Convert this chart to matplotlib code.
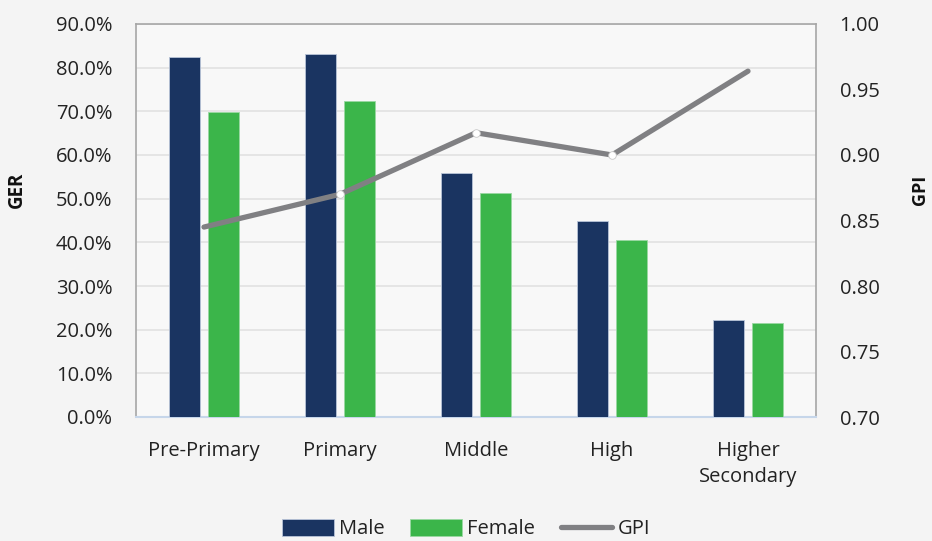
import matplotlib.pyplot as plt
import numpy as np
from matplotlib.ticker import FuncFormatter, FixedLocator
from matplotlib.lines import Line2D

plt.rcParams['font.family'] = ['Open Sans', 'DejaVu Sans']

categories = ["Pre-Primary", "Primary", "Middle", "High", "Higher\nSecondary"]
male_ger = [82.5, 83.2, 55.9, 44.9, 22.3]
female_ger = [69.8, 72.3, 51.3, 40.5, 21.5]
gpi = [0.845, 0.870, 0.917, 0.900, 0.964]

male_color = "#1a3461"
female_color = "#3bb54a"
gpi_color = "#808083"
fs = 14.5

fig = plt.figure(figsize=(9.32, 5.41), dpi=100, facecolor="#f4f4f4")
ax = fig.add_axes([136 / 932, 1 - 417 / 541, 680 / 932, 393 / 541])
ax.set_facecolor("#f8f8f8")

x = np.arange(len(categories))
w = 0.228
off = 0.143
ax.bar(x - off, male_ger, w, color=male_color, edgecolor="#b8c4d8", linewidth=0.6,
       label="Male", zorder=3)
ax.bar(x + off, female_ger, w, color=female_color, edgecolor="#9ad8a2", linewidth=0.6,
       label="Female", zorder=3)

ax.set_xlim(-0.5, len(categories) - 0.5)
ax.set_ylim(0, 90)
ax.yaxis.set_major_locator(FixedLocator(np.arange(0, 91, 10)))
ax.yaxis.set_major_formatter(FuncFormatter(lambda v, p: f"{v:.1f}%"))
ax.grid(axis="y", color="#e2e2e2", linewidth=1.2, zorder=0)
ax.set_xticks(x)
ax.set_xticklabels(categories, fontsize=fs, color="#222222", linespacing=1.45)
ax.tick_params(axis="x", length=0, pad=17)
ax.tick_params(axis="y", length=0, pad=17, labelsize=fs, labelcolor="#222222")

for s in ("left", "top", "right"):
    ax.spines[s].set_color("#a6a6a6")
    ax.spines[s].set_linewidth(1.2)
ax.spines["bottom"].set_color("#c6d6ea")
ax.spines["bottom"].set_linewidth(1.5)

ax.set_ylabel("GER", fontsize=13.5, fontweight="bold", color="#111111")
ax.yaxis.set_label_coords((27 - 136) / 680, 0.578)

ax2 = ax.twinx()
ax2.set_ylim(0.70, 1.00)
ax2.yaxis.set_major_locator(FixedLocator(np.arange(0.70, 1.001, 0.05)))
ax2.yaxis.set_major_formatter(FuncFormatter(lambda v, p: f"{v:.2f}"))
ax2.tick_params(axis="y", length=0, pad=17, labelsize=fs, labelcolor="#222222")
for s in ("left", "top", "right", "bottom"):
    ax2.spines[s].set_visible(False)
ax2.plot(x, gpi, color=gpi_color, linewidth=3.8, solid_capstyle="round",
         solid_joinstyle="round", marker="o", markersize=5.5,
         markerfacecolor="white", markeredgecolor="#c8c8c8", markeredgewidth=0.6,
         markevery=[1, 2, 3], label="GPI", zorder=4)
ax2.set_ylabel("GPI", fontsize=13, fontweight="bold", color="#111111", rotation=90)
ax2.yaxis.set_label_coords((911 - 136) / 680, 0.578)

h1, l1 = ax.get_legend_handles_labels()
gpi_handle = Line2D([], [], color=gpi_color, linewidth=3.8, solid_capstyle="round")
leg = fig.legend(h1 + [gpi_handle], l1 + ["GPI"], loc="center",
                 bbox_to_anchor=(0.5, 0.022), ncol=3, frameon=False, fontsize=fs,
                 handlelength=2.55, handleheight=0.9, columnspacing=1.3,
                 handletextpad=0.25)
for t in leg.get_texts():
    t.set_color("#222222")

fig.savefig("out.png", dpi=100, facecolor=fig.get_facecolor())
